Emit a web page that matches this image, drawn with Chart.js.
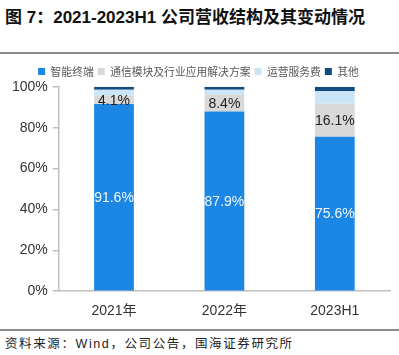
<!DOCTYPE html>
<html><head><meta charset="utf-8">
<script src="https://cdn.jsdelivr.net/npm/chart.js@4"></script>
<style>
html,body{margin:0;padding:0;background:#fff;width:399px;height:355px;overflow:hidden;position:relative;font-family:"Liberation Sans","Noto Sans CJK SC",sans-serif;}
#title{position:absolute;left:5px;top:3px;font-size:17px;font-weight:bold;color:#111;white-space:nowrap;font-family:"Liberation Sans","Noto Sans CJK SC",sans-serif;}
#topline{position:absolute;left:0;top:52px;width:399px;height:2px;background:#8c8c8c;}
#botline{position:absolute;left:0;top:329px;width:399px;height:2px;background:#8c8c8c;}
#src{position:absolute;left:5px;top:333px;font-size:12.5px;letter-spacing:1.6px;color:#222;white-space:nowrap;font-family:"Liberation Sans","Noto Sans CJK SC",sans-serif;}
#c{position:absolute;left:0;top:55px;}
</style></head>
<body>
<div id="title">图 7：2021-2023H1 公司营收结构及其变动情况</div>
<div id="topline"></div>
<canvas id="c" width="399" height="273"></canvas>
<div id="botline"></div>
<div id="src">资料来源：Wind，公司公告，国海证券研究所</div>
<script>
const categories = ["2021年", "2022年", "2023H1"];
const seriesNames = ["智能终端", "通信模块及行业应用解决方案", "运营服务费", "其他"];
const smartTerminal = [91.6, 87.9, 75.6];
const moduleSolution = [4.1, 8.4, 16.1];
const operationFee = [2.8, 2.2, 6.1];
const others = [1.5, 1.5, 2.2];
const yTicks = [0, 20, 40, 60, 80, 100];

const colors = ["#1c86e4", "#d9d9d9", "#cbe5f8", "#124b80"];
const labelColors = ["#f2f6fb", "#222222"];

const labelPlugin = {
  id: "segLabels",
  afterDatasetsDraw(chart) {
    const ctx = chart.ctx;
    ctx.save();
    ctx.font = "14px 'Liberation Sans', Arial, sans-serif";
    ctx.textAlign = "center";
    ctx.textBaseline = "middle";
    [0, 1].forEach(di => {
      const meta = chart.getDatasetMeta(di);
      const ds = chart.data.datasets[di];
      meta.data.forEach((el, i) => {
        const p = el.getProps(["x", "y", "base"], true);
        ctx.fillStyle = labelColors[di];
        ctx.fillText(ds.data[i].toFixed(1) + "%", p.x, (p.y + p.base) / 2 + 1);
      });
    });
    ctx.restore();
  }
};

new Chart(document.getElementById("c"), {
  type: "bar",
  data: {
    labels: categories,
    datasets: [smartTerminal, moduleSolution, operationFee, others].map((d, i) => ({
      label: seriesNames[i],
      data: d,
      backgroundColor: colors[i],
      borderWidth: 0,
      barPercentage: 0.36,
      categoryPercentage: 1
    }))
  },
  options: {
    responsive: false,
    animation: false,
    devicePixelRatio: 1,
    layout: { padding: { left: 7, right: 9, top: 7, bottom: 4 } },
    plugins: {
      legend: {
        position: "top",
        labels: {
          boxWidth: 7, boxHeight: 7, padding: 4,
          color: "#595959",
          font: { size: 10.8, family: "'Noto Sans CJK SC', sans-serif" }
        }
      },
      tooltip: { enabled: false }
    },
    scales: {
      x: {
        stacked: true,
        grid: { display: false },
        border: { display: true, color: "#bfbfbf", width: 1.5 },
        ticks: { color: "#333", padding: 4, font: { size: 14, family: "'Liberation Sans', 'Noto Sans CJK SC', sans-serif" } }
      },
      y: {
        stacked: true,
        min: 0, max: 100,
        afterBuildTicks(axis) { axis.ticks = yTicks.map(v => ({ value: v })); },
        grid: { display: true, drawOnChartArea: false, drawTicks: true, tickLength: 6, color: "#bfbfbf", lineWidth: 1.5 },
        border: { display: true, color: "#bfbfbf", width: 1.5 },
        ticks: { color: "#333", padding: 5, callback: v => v + "%", font: { size: 14, family: "'Liberation Sans', Arial, sans-serif" } }
      }
    }
  },
  plugins: [labelPlugin]
});
</script>
</body></html>
